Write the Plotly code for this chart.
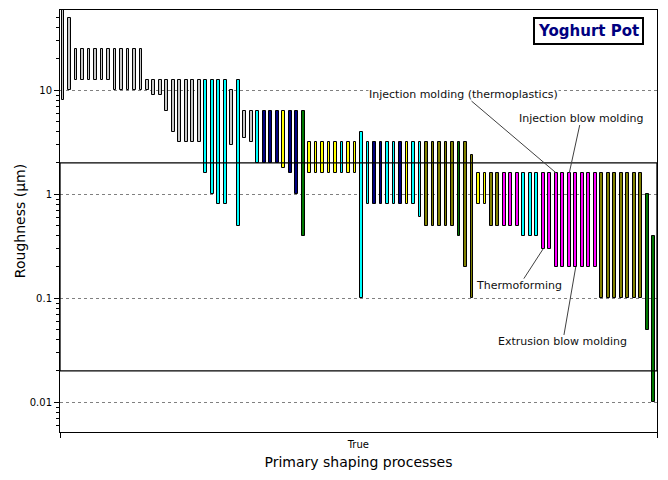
import math

import plotly.graph_objects as go

# roughness range of each process (µm), left to right
low = [
    8, 10, 12.5, 12.5, 12.5, 12.5, 12.5, 12.5, 10, 10,
    10, 10, 10, 10, 9, 9, 6.3, 4, 3.2, 3.2,
    3.2, 3.2, 1.6, 1.0, 0.8, 0.8, 3.0, 0.5, 3.5, 3.2,
    2.0, 2.0, 2.0, 2.0, 1.8, 1.6, 1.0, 0.4, 1.6, 1.6,
    1.6, 1.6, 1.6, 1.6, 1.6, 1.6, 0.1, 0.8, 0.8, 0.8,
    0.8, 0.8, 0.8, 0.8, 0.8, 0.6, 0.5, 0.5, 0.5, 0.5,
    0.5, 0.4, 0.2, 0.1, 0.8, 0.8, 0.5, 0.5, 0.5, 0.5,
    0.5, 0.4, 0.4, 0.4, 0.3, 0.3, 0.2, 0.2, 0.2, 0.2,
    0.2, 0.2, 0.2, 0.1, 0.1, 0.1, 0.1, 0.1, 0.1, 0.1,
    0.05, 0.01,
]
high = [
    60, 50, 25, 25, 25, 25, 25, 25, 25, 25,
    25, 25, 25, 12.5, 12.5, 12.5, 12.5, 12.5, 12.5, 12.5,
    12.5, 12.5, 12.5, 12.5, 12.5, 12.5, 10, 12.5, 6.3, 6.3,
    6.3, 6.3, 6.3, 6.3, 6.3, 6.3, 6.3, 6.3, 3.2, 3.2,
    3.2, 3.2, 3.2, 3.2, 3.2, 3.2, 4, 3.2, 3.2, 3.2,
    3.2, 3.2, 3.2, 3.2, 3.2, 3.2, 3.2, 3.2, 3.2, 3.2,
    3.2, 3.2, 3.2, 2.4, 1.6, 1.6, 1.6, 1.6, 1.6, 1.6,
    1.6, 1.6, 1.6, 1.6, 1.6, 1.6, 1.6, 1.6, 1.6, 1.6,
    1.6, 1.6, 1.6, 1.6, 1.6, 1.6, 1.6, 1.6, 1.6, 1.6,
    1.0, 0.4,
]
# material family of each bar
family = (
    ["G"] * 22 + ["C"] * 4 + ["G", "C", "G", "G", "C", "N", "N", "N", "Y", "N", "N", "D"]
    + ["Y"] * 5 + ["C", "Y", "Y", "C", "C", "N", "N", "C", "C", "N", "Y", "C", "C"]
    + ["O"] * 5 + ["D", "O", "O", "Y", "Y", "O", "O", "M", "M", "M", "C", "C", "C"]
    + ["M"] * 9 + ["O"] * 7 + ["D", "D"]
)
family_colors = {
    "G": "#c8c8c8", "C": "#00ffff", "N": "#000080", "Y": "#ffff00",
    "D": "#007800", "O": "#808000", "M": "#ff00ff",
}

band = [0.02, 2]
tick_vals = [0.01, 0.1, 1, 10]
tick_text = ["0.01", "0.1", "1", "10"]
minor_vals = [m * 10 ** e for e in range(-3, 2) for m in range(2, 10)]

# labelled processes: (text, bar number, end, x offset, y offset)
callouts = [
    ("Injection molding (thermoplastics)", 77, "high", -93, -79),
    ("Injection blow molding", 79, "high", 12, -55),
    ("Thermoforming", 75, "low", -24, 37),
    ("Extrusion blow molding", 80, "low", -13, 75),
]

n = len(low)
idx = list(range(1, n + 1))
span = [h - l for h, l in zip(high, low)]

fig = go.Figure()
fig.add_trace(
    go.Bar(
        x=idx,
        y=span,
        base=low,
        width=0.42,
        marker=dict(color=[family_colors[f] for f in family], line=dict(color="black", width=1)),
        showlegend=False,
        hoverinfo="skip",
    )
)

fig.add_shape(
    type="rect", xref="paper", x0=0, x1=1, yref="y", y0=band[0], y1=band[1],
    line=dict(color="black", width=1.3), layer="above",
)

for text, bar, end, ax, ay in callouts:
    yv = high[bar - 1] if end == "high" else low[bar - 1]
    fig.add_annotation(
        x=bar, y=math.log10(yv), text=text, ax=ax, ay=ay,
        showarrow=True, arrowhead=0, arrowwidth=1, arrowcolor="#404040", standoff=0,
        font=dict(size=11, color="#101010"), bgcolor="white", borderpad=0,
    )

fig.add_annotation(
    xref="paper", yref="paper", x=0.978, y=0.983, xanchor="right", yanchor="top",
    text="<b>Yoghurt Pot</b>", showarrow=False,
    font=dict(size=15, color="#000080"),
    bgcolor="white", bordercolor="black", borderwidth=2, borderpad=3,
)

fig.update_layout(
    width=668,
    height=480,
    margin=dict(l=60, r=11, t=10, b=48),
    paper_bgcolor="white",
    plot_bgcolor="white",
    font=dict(family="DejaVu Sans", color="black"),
    bargap=0,
)
fig.update_xaxes(
    range=[0.54, 92.52],
    tickvals=[(1 + n) / 2],
    ticktext=["True"],
    ticks="",
    ticklabelstandoff=3,
    tickfont=dict(size=10),
    minor=dict(tickmode="array", tickvals=[0.54, 92.52], ticks="outside", ticklen=5, tickcolor="black"),
    showgrid=False,
    zeroline=False,
    showline=True,
    linecolor="black",
    mirror=True,
    automargin=False,
    title=dict(text="Primary shaping processes", font=dict(size=14), standoff=8),
)
fig.update_yaxes(
    type="log",
    range=[-2.286, 1.772],
    tickvals=tick_vals,
    ticktext=tick_text,
    ticks="outside",
    ticklen=5,
    tickcolor="black",
    tickfont=dict(size=10),
    minor=dict(tickmode="array", tickvals=minor_vals, ticks="outside", ticklen=3, tickcolor="black", showgrid=False),
    showgrid=True,
    gridcolor="#808080",
    griddash="3px,3px",
    gridwidth=1,
    showline=True,
    linecolor="black",
    mirror=True,
    automargin=False,
    title=dict(text="Roughness (µm)", font=dict(size=14), standoff=0),
)

# drop the page's default body margin so the figure sits at the window origin
fig.write_html(
    "out.html",
    config={"displayModeBar": False},
    post_script="document.body.style.margin='0';",
)
